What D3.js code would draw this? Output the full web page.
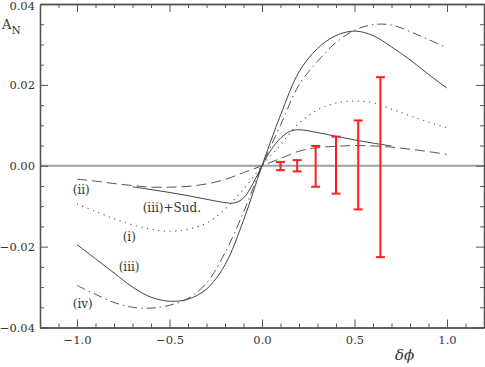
<!DOCTYPE html>
<html><head><meta charset="utf-8">
<script src="https://cdn.jsdelivr.net/npm/d3@7"></script>
<style>body{margin:0;background:#fff}svg{display:block}</style>
</head><body>
<script>
// ---- data ----
const xGrid = [-1.0,-0.9,-0.8,-0.7,-0.6,-0.5,-0.4,-0.3,-0.2,-0.1,0.0,0.1,0.2,0.3,0.4,0.5,0.6,0.7,0.8,0.9,1.0];
const curveI   = [-0.0095,-0.0113,-0.0131,-0.0146,-0.0157,-0.0162,-0.0157,-0.0142,-0.0107,-0.0058,0,0.0052,0.0105,0.0138,0.0155,0.0160,0.0156,0.0140,0.0124,0.0108,0.0094];
const curveII  = [-0.0033,-0.0038,-0.0044,-0.0049,-0.0053,-0.0053,-0.0051,-0.0045,-0.0034,-0.0017,0,0.0018,0.0036,0.0045,0.0048,0.0050,0.0049,0.0046,0.0041,0.0035,0.0028];
const curveIII = [-0.0195,-0.0230,-0.0265,-0.0300,-0.0325,-0.0335,-0.0330,-0.0305,-0.0245,-0.0135,0,0.0125,0.0232,0.0290,0.0322,0.0333,0.0322,0.0294,0.0262,0.0226,0.0192];
const curveIV  = [-0.0296,-0.0318,-0.0338,-0.0350,-0.0352,-0.0345,-0.0328,-0.0290,-0.0215,-0.0115,0,0.0100,0.0200,0.0258,0.0305,0.0335,0.0349,0.0348,0.0332,0.0312,0.0292];
const sudX = [-0.7,-0.6,-0.5,-0.4,-0.3,-0.2,-0.15,-0.1,-0.05,0,0.05,0.1,0.15,0.2,0.3,0.4,0.5,0.6,0.7];
const sudY = [-0.0052,-0.0059,-0.0066,-0.0074,-0.0083,-0.0091,-0.0092,-0.0080,-0.0045,0,0.0040,0.0068,0.0085,0.0089,0.0082,0.0073,0.0064,0.0056,0.0049];
const dataX  = [0.10,0.19,0.29,0.40,0.52,0.64];
const dataLo = [-0.0011,-0.0014,-0.0052,-0.0069,-0.0108,-0.0226];
const dataHi = [0.0009,0.0014,0.0049,0.0072,0.0112,0.0219];
const xTicks = [-1.0,-0.5,0.0,0.5,1.0];
const xTickLabels = ["\u22121.0","\u22120.5","0.0","0.5","1.0"];
const yTicks = [-0.04,-0.02,0.0,0.02,0.04];
const yTickLabels = ["\u22120.04","\u22120.02","0.00","0.02","0.04"];
const labelText = ["(ii)","(iii)+Sud.","(i)","(iii)","(iv)"];
const labelX = [-1.023,-0.645,-0.753,-0.775,-1.023];
const labelY = [-0.0071,-0.0115,-0.0185,-0.0261,-0.0352];

// ---- layout ----
const W = 485, H = 367;
const svg = d3.select("body").append("svg").attr("width", W).attr("height", H);
const x = d3.scaleLinear().domain([-1.2, 1.2]).range([40, 484]);
const y = d3.scaleLinear().domain([-0.04, 0.04]).range([327.5, 4]);
const font = "DejaVu Serif";
const frameCol = "#555";

// zero line
svg.append("line").attr("x1", x(-1.2)).attr("x2", x(1.2)).attr("y1", y(0)).attr("y2", y(0))
  .attr("stroke", "#a0a0a0").attr("stroke-width", 2);

// axes
const minorX = d3.range(-11, 12).map(d => d / 10).filter(v => !xTicks.some(t => Math.abs(t - v) < 1e-9));
const minorY = d3.range(-7, 8).map(d => d * 0.005).filter(v => !yTicks.some(t => Math.abs(t - v) < 1e-9));

function styleAxis(g) {
  g.select(".domain").attr("stroke", frameCol).attr("stroke-width", 1.3);
  g.selectAll(".tick line").attr("stroke", frameCol).attr("stroke-width", 1);
  g.selectAll("text").attr("font-family", font).attr("font-size", "11.5px").attr("fill", "#333");
}
const gB = svg.append("g").attr("transform", `translate(0,${y(-0.04)})`);
gB.call(d3.axisBottom(x).tickValues(xTicks).tickSize(-8).tickSizeOuter(0).tickPadding(8).tickFormat((d,i) => xTickLabels[i]));
gB.append("g").call(d3.axisBottom(x).tickValues(minorX).tickSize(-4).tickSizeOuter(0).tickFormat(""));
styleAxis(gB);
const gT = svg.append("g").attr("transform", `translate(0,${y(0.04)})`);
gT.call(d3.axisTop(x).tickValues(xTicks).tickSize(-8).tickSizeOuter(0).tickFormat(""));
gT.append("g").call(d3.axisTop(x).tickValues(minorX).tickSize(-4).tickSizeOuter(0).tickFormat(""));
styleAxis(gT);
const gL = svg.append("g").attr("transform", `translate(${x(-1.2)},0)`);
gL.call(d3.axisLeft(y).tickValues(yTicks).tickSize(-8).tickSizeOuter(0).tickPadding(5).tickFormat((d,i) => yTickLabels[i]));
gL.append("g").call(d3.axisLeft(y).tickValues(minorY).tickSize(-4).tickSizeOuter(0).tickFormat(""));
styleAxis(gL);
// keep the topmost label inside the picture
gL.selectAll(".tick text").filter(d => d === 0.04).attr("dy", "0.5em");
const gR = svg.append("g").attr("transform", `translate(${x(1.2)},0)`);
gR.call(d3.axisRight(y).tickValues(yTicks).tickSize(-8).tickSizeOuter(0).tickFormat(""));
gR.append("g").call(d3.axisRight(y).tickValues(minorY).tickSize(-4).tickSizeOuter(0).tickFormat(""));
styleAxis(gR);
svg.selectAll(".domain").attr("stroke", frameCol).attr("stroke-width", 1.3);

// curves
const line = d3.line().x(d => x(d[0])).y(d => y(d[1])).curve(d3.curveCatmullRom.alpha(0.5));
function drawCurve(xs, ys, dash, col, w) {
  svg.append("path").datum(xs.map((v, i) => [v, ys[i]]))
    .attr("d", line).attr("fill", "none").attr("stroke", col).attr("stroke-width", w)
    .attr("stroke-dasharray", dash);
}
drawCurve(xGrid, curveI, "1.2,4.5", "#666", 1.2);
drawCurve(xGrid, curveII, "10,5", "#555", 1);
drawCurve(xGrid, curveIII, null, "#444", 1);
drawCurve(xGrid, curveIV, "9,4,1.5,4", "#555", 1);
drawCurve(sudX, sudY, null, "#444", 1);

// error bars
const eb = svg.append("g").attr("stroke", "#ff1f1f").attr("stroke-width", 2).attr("fill", "none");
dataX.forEach((v, i) => {
  const cx = x(v);
  eb.append("line").attr("x1", cx).attr("x2", cx).attr("y1", y(dataLo[i])).attr("y2", y(dataHi[i]));
  eb.append("line").attr("x1", cx - 4.5).attr("x2", cx + 4.5).attr("y1", y(dataLo[i])).attr("y2", y(dataLo[i]));
  eb.append("line").attr("x1", cx - 4.5).attr("x2", cx + 4.5).attr("y1", y(dataHi[i])).attr("y2", y(dataHi[i]));
});

// curve labels
labelText.forEach((t, i) => {
  svg.append("text").attr("x", x(labelX[i])).attr("y", y(labelY[i]))
    .attr("font-family", font).attr("font-size", "12px").attr("fill", "#333").text(t);
});

// axis titles
const an = svg.append("text").attr("x", 2).attr("y", 29).attr("font-family", font).attr("font-size", "13px").attr("fill", "#333");
an.append("tspan").text("A");
an.append("tspan").attr("font-size", "10.5px").attr("dy", 5).text("N");
svg.append("text").attr("x", 395).attr("y", 360).attr("font-family", font).attr("font-style", "italic")
  .attr("font-size", "15px").attr("fill", "#333").text("\u03B4\u03D5");
</script>
</body></html>
